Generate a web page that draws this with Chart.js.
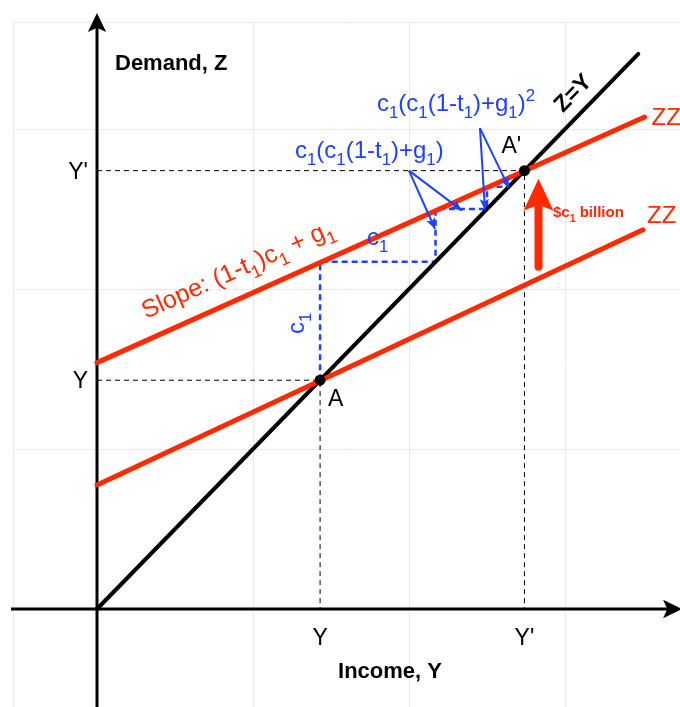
<!DOCTYPE html>
<html>
<head>
<meta charset="utf-8">
<script src="https://cdn.jsdelivr.net/npm/chart.js@4.4.1/dist/chart.umd.min.js"></script>
<style>
  html, body { margin: 0; padding: 0; background: #fff; }
  #wrap { position: relative; width: 680px; height: 707px; }
</style>
</head>
<body>
<div id="wrap"><canvas id="chart"></canvas></div>
<script>
// Income / demand diagram (1 unit = one grid cell)
const zzLine = [{ x: 0, y: 0.775 }, { x: 3.5, y: 2.37 }];
const zzPrimeLine = [{ x: 0, y: 1.54 }, { x: 3.51, y: 3.075 }];
const zEqualsY = [{ x: 0, y: 0 }, { x: 3.47, y: 3.47 }];
const equilibrium = [{ x: 1.43, y: 1.43 }, { x: 2.74, y: 2.74 }];
const pointNames = ['A', "A'"];

// multiplier staircase between ZZ' and Z=Y
const stepX = [1.43, 1.43, 2.17, 2.17, 2.50, 2.50, 2.64];
const stepY = [1.43, 2.17, 2.17, 2.50, 2.50, 2.64, 2.64];

// tick labels on the two axes
const xTickValues = [1.43, 2.74];
const xTickLabels = ['Y', "Y'"];
const yTickValues = [1.43, 2.74];
const yTickLabels = ['Y', "Y'"];
const gridValues = [1, 2, 3];

// upward shift of ZZ
const shiftX = 2.83;
const shiftFrom = 2.14;
const shiftTo = 2.69;

// callout arrows [fromX, fromY, toX, toY]
const calloutFirst = [[2.0, 2.74, 2.167, 2.375], [2.0, 2.74, 2.34, 2.49]];
const calloutSecond = [[2.455, 3.006, 2.487, 2.494], [2.455, 3.006, 2.641, 2.631]];

const RED = '#ff2a00';
const BLUE = '#1f40ff';
const FONT = '"Liberation Sans", Arial, Helvetica, sans-serif';

const guideA = [{ x: 0, y: equilibrium[0].y }, equilibrium[0], { x: equilibrium[0].x, y: 0 }];
const guideB = [{ x: 0, y: equilibrium[1].y }, equilibrium[1], { x: equilibrium[1].x, y: 0 }];
const steps = stepX.map((x, i) => ({ x: x, y: stepY[i] }));

// draw text with subscripts / superscripts, parts = [[text, 'sub'|'sup'|'']]
function drawRich(ctx, parts, x, y, size, opts) {
  opts = opts || {};
  const weight = opts.bold ? 'bold ' : '';
  const small = size * 0.7;
  const widths = parts.map(p => {
    ctx.font = weight + (p[1] ? small : size) + 'px ' + FONT;
    return ctx.measureText(p[0]).width;
  });
  const total = widths.reduce((a, b) => a + b, 0);
  ctx.save();
  ctx.translate(x, y);
  if (opts.angle) ctx.rotate(opts.angle);
  ctx.fillStyle = opts.color || '#000';
  ctx.textBaseline = 'alphabetic';
  ctx.textAlign = 'left';
  let cx = opts.align === 'center' ? -total / 2 : (opts.align === 'right' ? -total : 0);
  parts.forEach((p, i) => {
    ctx.font = weight + (p[1] ? small : size) + 'px ' + FONT;
    let dy = 0;
    if (p[1] === 'sub') dy = size * 0.3;
    if (p[1] === 'sup') dy = -size * 0.4;
    ctx.fillText(p[0], cx, dy);
    cx += widths[i];
  });
  ctx.restore();
}

function arrowHead(ctx, x1, y1, x2, y2, len, half) {
  const a = Math.atan2(y2 - y1, x2 - x1);
  ctx.beginPath();
  ctx.moveTo(x2, y2);
  ctx.lineTo(x2 - len * Math.cos(a - half), y2 - len * Math.sin(a - half));
  ctx.lineTo(x2 - len * 0.7 * Math.cos(a), y2 - len * 0.7 * Math.sin(a));
  ctx.lineTo(x2 - len * Math.cos(a + half), y2 - len * Math.sin(a + half));
  ctx.closePath();
  ctx.fill();
}

const diagramPlugin = {
  id: 'diagram',
  beforeDatasetsDraw(chart) {
    const ctx = chart.ctx;
    const area = chart.chartArea;
    const xs = chart.scales.x;
    const ys = chart.scales.y;
    ctx.save();
    // light grid
    ctx.strokeStyle = '#e8e8e8';
    ctx.lineWidth = 1;
    ctx.beginPath();
    ctx.moveTo(area.left + 0.5, area.bottom);
    ctx.lineTo(area.left + 0.5, area.top + 0.5);
    ctx.lineTo(area.right, area.top + 0.5);
    gridValues.forEach(v => {
      const px = Math.round(xs.getPixelForValue(v)) + 0.5;
      ctx.moveTo(px, area.top);
      ctx.lineTo(px, area.bottom);
      const py = Math.round(ys.getPixelForValue(v)) + 0.5;
      ctx.moveTo(area.left, py);
      ctx.lineTo(area.right, py);
    });
    ctx.stroke();

    // axes with arrows
    const ox = xs.getPixelForValue(0);
    const oy = ys.getPixelForValue(0);
    ctx.strokeStyle = '#000';
    ctx.fillStyle = '#000';
    ctx.lineWidth = 3;
    ctx.beginPath();
    ctx.moveTo(ox, chart.height);
    ctx.lineTo(ox, 18);
    ctx.moveTo(area.left - 2, oy);
    ctx.lineTo(chart.width - 4, oy);
    ctx.stroke();
    arrowHead(ctx, ox, 100, ox, 13, 21, 0.45);
    arrowHead(ctx, 600, oy, 682, oy, 21, 0.45);
    ctx.restore();
  },
  afterDraw(chart) {
    const ctx = chart.ctx;
    const xs = chart.scales.x;
    const ys = chart.scales.y;
    const px = v => xs.getPixelForValue(v);
    const py = v => ys.getPixelForValue(v);
    ctx.save();

    // axis titles
    drawRich(ctx, [['Demand, Z', '']], 115, 70, 22, { bold: true });
    drawRich(ctx, [['Income, Y', '']], 390, 678, 22, { bold: true, align: 'center' });

    // tick labels
    xTickValues.forEach((v, i) => drawRich(ctx, [[xTickLabels[i], '']], px(v), 645, 23, { align: 'center' }));
    yTickValues.forEach((v, i) => drawRich(ctx, [[yTickLabels[i], '']], px(0) - 9, py(v) + 8, 23, { align: 'right' }));

    // point names
    drawRich(ctx, [[pointNames[0], '']], px(equilibrium[0].x) + 8, py(equilibrium[0].y) + 26, 23);
    drawRich(ctx, [[pointNames[1], '']], px(equilibrium[1].x) - 23, py(equilibrium[1].y) - 18, 23);

    // Z=Y label along the 45 degree line
    const zyAngle = Math.atan2(py(zEqualsY[1].y) - py(0), px(zEqualsY[1].x) - px(0));
    drawRich(ctx, [['Z=Y', '']], 578, 98, 23, { bold: true, align: 'center', angle: zyAngle });

    // ZZ labels
    drawRich(ctx, [["ZZ'", '']], px(zzPrimeLine[1].x) + 7, py(zzPrimeLine[1].y) + 8, 24, { color: RED });
    drawRich(ctx, [['ZZ', '']], px(zzLine[1].x) + 4, py(zzLine[1].y) - 7, 24, { color: RED });

    // slope label along ZZ'
    const slopeAngle = Math.atan2(py(zzPrimeLine[1].y) - py(zzPrimeLine[0].y), px(zzPrimeLine[1].x) - px(zzPrimeLine[0].x));
    drawRich(ctx, [['Slope: (1-t', ''], ['1', 'sub'], [')c', ''], ['1', 'sub'], [' + g', ''], ['1', 'sub']],
      146, 319, 25, { color: RED, angle: slopeAngle });

    // blue staircase labels
    drawRich(ctx, [['c', ''], ['1', 'sub']], 367, 245, 24, { color: BLUE });
    drawRich(ctx, [['c', ''], ['1', 'sub']], 304, 334, 24, { color: BLUE, angle: -Math.PI / 2 });
    drawRich(ctx, [['c', ''], ['1', 'sub'], ['(c', ''], ['1', 'sub'], ['(1-t', ''], ['1', 'sub'], [')+g', ''], ['1', 'sub'], [')', '']],
      295, 158, 24, { color: BLUE });
    drawRich(ctx, [['c', ''], ['1', 'sub'], ['(c', ''], ['1', 'sub'], ['(1-t', ''], ['1', 'sub'], [')+g', ''], ['1', 'sub'], [')', ''], ['2', 'sup']],
      377, 111, 24, { color: BLUE });

    // blue callout arrows
    ctx.strokeStyle = BLUE;
    ctx.fillStyle = BLUE;
    ctx.lineWidth = 2;
    calloutFirst.concat(calloutSecond).forEach(a => {
      const x1 = px(a[0]), y1 = py(a[1]), x2 = px(a[2]), y2 = py(a[3]);
      ctx.beginPath();
      ctx.moveTo(x1, y1);
      ctx.lineTo(x2, y2);
      ctx.stroke();
      arrowHead(ctx, x1, y1, x2, y2, 12, 0.4);
    });

    // red shift arrow
    const sx = px(shiftX);
    ctx.strokeStyle = RED;
    ctx.fillStyle = RED;
    ctx.lineWidth = 8;
    ctx.lineCap = 'round';
    ctx.beginPath();
    ctx.moveTo(sx, py(shiftFrom));
    ctx.lineTo(sx, py(shiftTo) + 25);
    ctx.stroke();
    ctx.beginPath();
    ctx.moveTo(sx, py(shiftTo));
    ctx.lineTo(sx - 15, py(shiftTo) + 32);
    ctx.lineTo(sx, py(shiftTo) + 26);
    ctx.lineTo(sx + 15, py(shiftTo) + 32);
    ctx.closePath();
    ctx.fill();
    drawRich(ctx, [['$c', ''], ['1', 'sub'], [' billion', '']], 553, 217, 15, { bold: true, color: RED });

    ctx.restore();
  }
};

new Chart(document.getElementById('chart'), {
  type: 'scatter',
  data: {
    datasets: [
      { data: equilibrium, showLine: false, pointRadius: 5.5, pointBackgroundColor: '#000', pointBorderWidth: 0 },
      { data: zzPrimeLine, showLine: true, borderColor: RED, borderWidth: 5, borderCapStyle: 'round', pointRadius: 0 },
      { data: zzLine, showLine: true, borderColor: RED, borderWidth: 5, borderCapStyle: 'round', pointRadius: 0 },
      { data: zEqualsY, showLine: true, borderColor: '#000', borderWidth: 4, borderCapStyle: 'round', pointRadius: 0 },
      { data: steps, showLine: true, borderColor: BLUE, borderWidth: 2.5, borderDash: [6, 4], pointRadius: 0 },
      { data: guideA, showLine: true, borderColor: '#000', borderWidth: 1, borderDash: [5, 4], pointRadius: 0 },
      { data: guideB, showLine: true, borderColor: '#000', borderWidth: 1, borderDash: [5, 4], pointRadius: 0 }
    ]
  },
  options: {
    responsive: true,
    maintainAspectRatio: false,
    animation: false,
    events: [],
    layout: { autoPadding: false, padding: { left: 13, top: 22, right: 0, bottom: 0 } },
    plugins: { legend: { display: false }, tooltip: { enabled: false } },
    scales: {
      x: { type: 'linear', display: false, min: -0.5385, max: 3.7372 },
      y: { type: 'linear', display: false, min: -0.6125, max: 3.669 }
    }
  },
  plugins: [diagramPlugin]
});
</script>
</body>
</html>
